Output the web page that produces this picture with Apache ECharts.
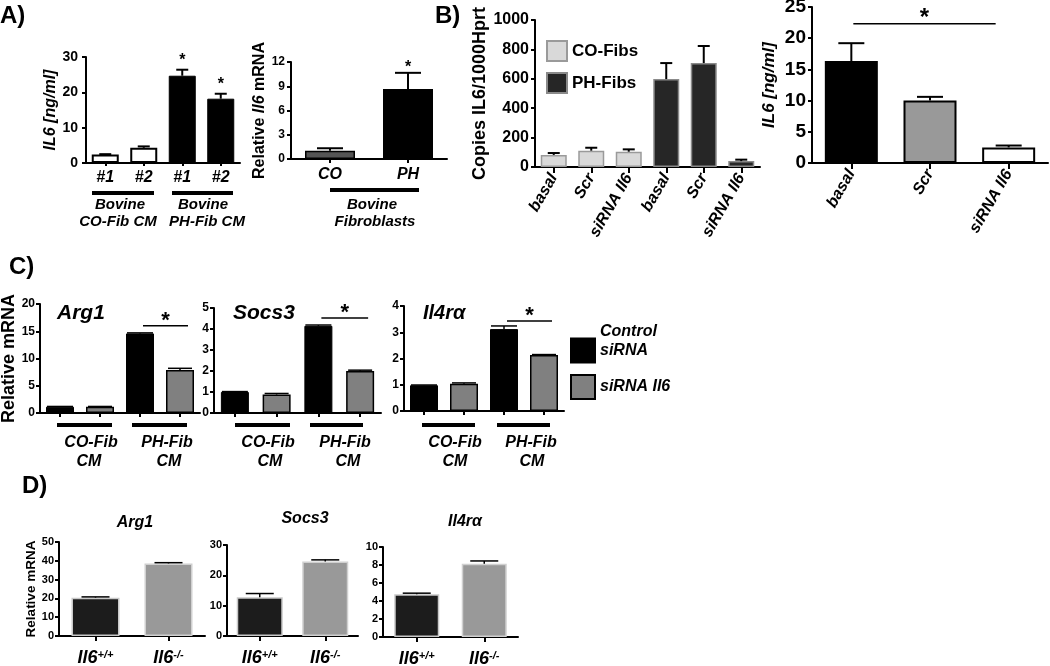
<!DOCTYPE html>
<html><head><meta charset="utf-8">
<script src="https://cdn.jsdelivr.net/npm/echarts@6/dist/echarts.min.js"></script>
<style>html,body{margin:0;padding:0;background:#fff}#c{width:1050px;height:666px}</style>
</head><body><div id="c"></div><script>
// ===== data =====
// A) left: IL6 in conditioned media
const aFibCats = ['#1', '#2', '#1', '#2'];
const aCOFibCM = [2.4, 4.3];
const aCOFibCMErr = [0.1, 0.4];
const aPHFibCM = [24.7, 18.2];
const aPHFibCMErr = [1.7, 1.4];
// A) right: relative Il6 mRNA
const aRelCats = ['CO', 'PH'];
const aRelIl6 = [1.03, 8.66];
const aRelIl6Err = [0.3, 2.0];
// B) left: copies IL6/1000 Hprt
const bCats = ['basal', 'Scr', 'siRNA Il6', 'basal', 'Scr', 'siRNA Il6'];
const bCOFibs = [82, 111, 104];
const bCOFibsErr = [13, 20, 16];
const bPHFibs = [598, 707, 40];
const bPHFibsErr = [109, 116, 10];
// B) right: IL6 ng/ml
const b2Cats = ['basal', 'Scr', 'siRNA Il6'];
const b2IL6 = [16.35, 10.0, 2.5];
const b2IL6Err = [2.85, 0.6, 0.3];
// C) relative mRNA, [CO-Fib CM, PH-Fib CM]
const cCats = ['CO ctrl', 'CO si', 'PH ctrl', 'PH si'];
const cArg1Ctrl = [1.15, 14.6], cArg1CtrlErr = [0.05, 0.1];
const cArg1Si = [1.15, 7.9], cArg1SiErr = [0.05, 0.3];
const cSocs3Ctrl = [1.0, 4.15], cSocs3CtrlErr = [0.02, 0.04];
const cSocs3Si = [0.88, 2.0], cSocs3SiErr = [0.05, 0.04];
const cIl4raCtrl = [0.98, 3.12], cIl4raCtrlErr = [0.01, 0.12];
const cIl4raSi = [1.04, 2.13], cIl4raSiErr = [0.03, 0.02];
// D) relative mRNA in Il6 +/+ vs -/-
const dCats = ['Il6+/+', 'Il6-/-'];
const dArg1 = [20.4, 38.6], dArg1Err = [0.4, 0.4];
const dSocs3 = [12.8, 24.6], dSocs3Err = [1.2, 0.5];
const dIl4ra = [4.75, 8.15], dIl4raErr = [0.12, 0.3];

// ===== helpers =====
const FONT = '"Liberation Sans", Arial, Helvetica, sans-serif';
const grids = [], xAxes = [], yAxes = [], series = [], graphics = [], legends = [];

function place(vals, start, n) {
  const out = new Array(n).fill('-');
  vals.forEach((v, k) => { out[start + k] = v; });
  return out;
}
function addPanel(p) {
  const gi = grids.length;
  grids.push({ left: p.left, top: p.top, width: p.width, height: p.height, containLabel: false, outerBoundsMode: 'none' });
  xAxes.push({
    gridIndex: gi, type: 'category', data: p.cats, boundaryGap: true,
    axisLine: { show: true, onZero: false, lineStyle: { color: '#000', width: 2 } },
    axisTick: { show: true, alignWithLabel: true, length: p.xTickLen || 5, lineStyle: { color: '#000', width: 2 } },
    axisLabel: Object.assign({ show: !!p.xLabel, interval: 0, color: '#000', fontFamily: FONT, fontWeight: 'bold', fontStyle: 'italic', hideOverlap: false }, p.xLabel || {}),
    splitLine: { show: false }
  });
  yAxes.push({
    gridIndex: gi, type: 'value', min: p.yMin, max: p.yMax, interval: p.yStep,
    axisLine: { show: true, lineStyle: { color: '#000', width: 2 } },
    axisTick: { show: true, length: 4, lineStyle: { color: '#000', width: 2 } },
    axisLabel: { color: '#000', fontFamily: FONT, fontWeight: 'bold', fontSize: p.yFont, margin: p.yMargin || 6, formatter: v => String(v) },
    splitLine: { show: false },
    name: p.yName || '', nameLocation: 'middle', nameRotate: 90, nameGap: p.yNameGap || 20,
    nameTextStyle: p.yNameStyle || {}
  });
  return gi;
}
function bar(gi, name, data, style, barWidth) {
  series.push({ type: 'bar', name: name, xAxisIndex: gi, yAxisIndex: gi, data: data, barWidth: barWidth, barGap: '-100%',
    itemStyle: Object.assign({ borderRadius: 0, borderJoin: 'miter' }, style), silent: true, animation: false, z: 2 });
}
function errs(gi, idx, vals, es, o) {
  o = o || {};
  const stars = o.stars || [];
  const cap = o.cap || 12, lw = o.lw || 2, fs = o.starSize || 16, sg = o.starGap || 10;
  series.push({
    type: 'custom', xAxisIndex: gi, yAxisIndex: gi, silent: true, animation: false, z: 4,
    encode: { x: 0, y: [1, 2] },
    data: vals.map((v, k) => [idx[k], v, es[k]]),
    renderItem: function (params, api) {
      const i = api.value(0), v = api.value(1), e = api.value(2);
      const b = api.coord([i, v]), t = api.coord([i, v + e]);
      const x = b[0];
      const ch = [
        { type: 'line', shape: { x1: x, y1: b[1], x2: x, y2: t[1] }, style: { stroke: o.color || '#000', lineWidth: lw } },
        { type: 'line', shape: { x1: x - cap / 2, y1: t[1], x2: x + cap / 2, y2: t[1] }, style: { stroke: o.color || '#000', lineWidth: lw } }
      ];
      if (stars.indexOf(params.dataIndex) >= 0) {
        ch.push({ type: 'text', style: { text: '*', x: x, y: t[1] - sg + 0.22 * fs, align: 'center', verticalAlign: 'middle',
          textAlign: 'center', textVerticalAlign: 'middle', font: 'bold ' + fs + 'px ' + FONT, fill: '#000' } });
      }
      return { type: 'group', children: ch };
    }
  });
}
function sig(gi, i0, i1, level, off0, off1, fs, gap) {
  series.push({
    type: 'custom', xAxisIndex: gi, yAxisIndex: gi, silent: true, animation: false, z: 5,
    encode: { x: [0, 1], y: 2 },
    data: [[i0, i1, level]],
    renderItem: function (params, api) {
      const p0 = api.coord([api.value(0), api.value(2)]), p1 = api.coord([api.value(1), api.value(2)]);
      const x0 = p0[0] + off0, x1 = p1[0] + off1, y = p0[1];
      return { type: 'group', children: [
        { type: 'line', shape: { x1: x0, y1: y, x2: x1, y2: y }, style: { stroke: '#000', lineWidth: 1.5 } },
        { type: 'text', style: { text: '*', x: (x0 + x1) / 2, y: y - gap + 0.22 * fs, align: 'center', verticalAlign: 'middle',
          textAlign: 'center', textVerticalAlign: 'middle', font: 'bold ' + fs + 'px ' + FONT, fill: '#000' } }
      ] };
    }
  });
}
function T(x, y, text, size, opt) {
  opt = opt || {};
  const font = (opt.italic === false ? '' : 'italic ') + 'bold ' + size + 'px ' + FONT;
  graphics.push({ type: 'text', x: x, y: y, silent: true, z: 10,
    style: { text: text, fill: '#000', font: font, align: opt.align || 'center', verticalAlign: opt.va || 'middle',
      textAlign: opt.align || 'center', textVerticalAlign: opt.va || 'middle' } });
}
function HL(x1, x2, y, w) {
  graphics.push({ type: 'line', silent: true, z: 10, shape: { x1: x1, y1: y, x2: x2, y2: y }, style: { stroke: '#000', lineWidth: w } });
}
const nameStyle = (size, italic) => ({ fontFamily: FONT, fontWeight: 'bold', fontStyle: italic ? 'italic' : 'normal', fontSize: size, color: '#000' });

// ===== Panel A left =====
const gA1 = addPanel({ left: 86, top: 57, width: 154, height: 106, cats: aFibCats, yMin: 0, yMax: 30, yStep: 10, yFont: 14, yMargin: 8,
  xLabel: { fontSize: 16, margin: 7 }, xTickLen: 3, yName: 'IL6 [ng/ml]', yNameGap: 26, yNameStyle: nameStyle(16, true) });
bar(gA1, 'CO-Fib CM', place(aCOFibCM, 0, 4), { color: '#fff', borderColor: '#000', borderWidth: 2 }, 27);
bar(gA1, 'PH-Fib CM', place(aPHFibCM, 2, 4), { color: '#000', borderColor: '#000', borderWidth: 1 }, 27);
errs(gA1, [0, 1], aCOFibCM, aCOFibCMErr, { cap: 12 });
errs(gA1, [2, 3], aPHFibCM, aPHFibCMErr, { cap: 12, stars: [0, 1], starSize: 16, starGap: 13 });

// ===== Panel A right =====
const gA2 = addPanel({ left: 291, top: 62, width: 156, height: 97, cats: aRelCats, yMin: 0, yMax: 12, yStep: 3, yFont: 12, yMargin: 6,
  xLabel: { fontSize: 16, margin: 8 }, xTickLen: 4, yName: '{n|Relative }{i|Il6}{n| mRNA}', yNameGap: 15,
  yNameStyle: { rich: { n: nameStyle(16, false), i: nameStyle(16, true) } } });
const aRelColors = ['#555555', '#000000'];
bar(gA2, 'Relative Il6', aRelIl6.map((v, k) => ({ value: v, itemStyle: { color: aRelColors[k] } })), { borderColor: '#000', borderWidth: 1.5 }, 50);
errs(gA2, [0, 1], aRelIl6, aRelIl6Err, { cap: 26, stars: [1], starSize: 16, starGap: 9 });

// ===== Panel B left =====
const gB1 = addPanel({ left: 535, top: 20, width: 225, height: 147, cats: bCats, yMin: 0, yMax: 1000, yStep: 200, yFont: 16, yMargin: 6,
  xLabel: { fontSize: 16, margin: 8, rotate: 60 }, xTickLen: 6, yName: 'Copies IL6/1000Hprt', yNameGap: 29, yNameStyle: nameStyle(18, false) });
bar(gB1, 'CO-Fibs', place(bCOFibs, 0, 6), { color: '#d9d9d9', borderColor: '#9a9a9a', borderWidth: 1.5 }, 26);
bar(gB1, 'PH-Fibs', place(bPHFibs, 3, 6), { color: '#262626', borderColor: '#8a8a8a', borderWidth: 1.5 }, 26);
errs(gB1, [0, 1, 2], bCOFibs, bCOFibsErr, { cap: 12 });
errs(gB1, [3, 4, 5], bPHFibs, bPHFibsErr, { cap: 12 });
legends.push({ data: ['CO-Fibs', 'PH-Fibs'], orient: 'vertical', left: 546, top: 40, itemWidth: 20, itemHeight: 20, itemGap: 10, icon: 'rect',
  itemStyle: { borderRadius: 0 }, padding: 0, selectedMode: false, textStyle: { fontFamily: FONT, fontWeight: 'bold', fontSize: 17, color: '#000' } });

// ===== Panel B right =====
const gB2 = addPanel({ left: 812, top: 7, width: 236, height: 156, cats: b2Cats, yMin: 0, yMax: 25, yStep: 5, yFont: 19, yMargin: 6,
  xLabel: { fontSize: 16, margin: 8, rotate: 60 }, xTickLen: 6, yName: 'IL6 [ng/ml]', yNameGap: 34, yNameStyle: nameStyle(17, true) });
const b2Styles = [{ color: '#000' }, { color: '#999999' }, { color: '#ffffff' }];
bar(gB2, 'IL6', b2IL6.map((v, k) => ({ value: v, itemStyle: b2Styles[k] })), { borderColor: '#000', borderWidth: 2 }, 53);
errs(gB2, [0, 1, 2], b2IL6, b2IL6Err, { cap: 26 });
sig(gB2, 0, 2, 22.3, 2, -13, 24, 11);

// ===== Panel C =====
const cCtrlStyle = { color: '#000', borderColor: '#000', borderWidth: 1 };
const cSiStyle = { color: '#808080', borderColor: '#000', borderWidth: 1.5 };
function cPanel(g, ctrl, ctrlE, si, siE, level) {
  const gi = addPanel(Object.assign({ cats: cCats, yMin: 0, yFont: 12, yMargin: 5, xTickLen: 4 }, g));
  bar(gi, 'Control siRNA', [ctrl[0], '-', ctrl[1], '-'], cCtrlStyle, 28);
  bar(gi, 'siRNA Il6', ['-', si[0], '-', si[1]], cSiStyle, 28);
  errs(gi, [0, 2], ctrl, ctrlE, { cap: 26, lw: 1.5 });
  errs(gi, [1, 3], si, siE, { cap: 24, lw: 1.5 });
  sig(gi, 2, 3, level, 3, 8, 22, 10);
  return gi;
}
cPanel({ left: 40, top: 304, width: 160, height: 109, yMax: 20, yStep: 5, yName: 'Relative mRNA', yNameGap: 22, yNameStyle: nameStyle(18, false) },
  cArg1Ctrl, cArg1CtrlErr, cArg1Si, cArg1SiErr, 16.0);
cPanel({ left: 214, top: 308, width: 167, height: 105, yMax: 5, yStep: 1 },
  cSocs3Ctrl, cSocs3CtrlErr, cSocs3Si, cSocs3SiErr, 4.52);
cPanel({ left: 404, top: 306, width: 160, height: 105, yMax: 4, yStep: 1 },
  cIl4raCtrl, cIl4raCtrlErr, cIl4raSi, cIl4raSiErr, 3.43);
legends.push({ data: ['Control siRNA', 'siRNA Il6'], orient: 'vertical', left: 570, top: 322, itemWidth: 24, itemHeight: 24, itemGap: -5, icon: 'rect',
  itemStyle: { borderRadius: 0 }, padding: 0, selectedMode: false,
  formatter: n => n === 'Control siRNA' ? 'Control\nsiRNA\n ' : n,
  textStyle: { fontFamily: FONT, fontWeight: 'bold', fontStyle: 'italic', fontSize: 16, lineHeight: 19, color: '#000' } });

// ===== Panel D =====
const dStyles = [{ color: '#1c1c1c', borderColor: '#c8c8c8', borderWidth: 1.5 }, { color: '#999999', borderColor: '#d0d0d0', borderWidth: 1.5 }];
const dLabel = { fontSize: 18, margin: 13,
  formatter: v => '{b|' + v.slice(0, 3) + '}{s|' + v.slice(3) + '}',
  rich: { b: { fontFamily: FONT, fontWeight: 'bold', fontStyle: 'italic', fontSize: 18, color: '#000' },
          s: { fontFamily: FONT, fontWeight: 'bold', fontStyle: 'italic', fontSize: 11, color: '#000', verticalAlign: 'top' } } };
function dPanel(g, vals, es) {
  const gi = addPanel(Object.assign({ cats: dCats, yMin: 0, yFont: 11, yMargin: 5, xTickLen: 5, xLabel: dLabel }, g));
  bar(gi, 'D', vals.map((v, k) => ({ value: v, itemStyle: dStyles[k] })), {}, g.bw);
  errs(gi, [0, 1], vals, es, { cap: 28, lw: 1.5 });
}
dPanel({ left: 59, top: 542, width: 146, height: 94, yMax: 50, yStep: 10, bw: 48, yName: 'Relative mRNA', yNameGap: 19, yNameStyle: nameStyle(13.5, false) }, dArg1, dArg1Err);
dPanel({ left: 227, top: 545, width: 131, height: 91, yMax: 30, yStep: 10, bw: 46 }, dSocs3, dSocs3Err);
dPanel({ left: 383, top: 547, width: 135, height: 90, yMax: 10, yStep: 2, bw: 45 }, dIl4ra, dIl4raErr);

// ===== annotations =====
T(0, 16, 'A)', 24, { italic: false, align: 'left' });
T(435, 16, 'B)', 24, { italic: false, align: 'left' });
T(9, 267, 'C)', 24, { italic: false, align: 'left' });
T(22, 486, 'D)', 24, { italic: false, align: 'left' });
// A left groups
HL(92, 154, 193, 4); HL(172, 233, 193, 4);
T(120, 205, 'Bovine', 15); T(118, 222, 'CO-Fib CM', 15);
T(203, 205, 'Bovine', 15); T(207, 222, 'PH-Fib CM', 15);
// A right group
HL(330, 419, 190, 4);
T(372, 205, 'Bovine', 15); T(375, 222, 'Fibroblasts', 15);
// C titles
T(57, 313, 'Arg1', 21, { align: 'left' });
T(233, 313, 'Socs3', 21, { align: 'left' });
T(423, 313, 'Il4r\u03b1', 20, { align: 'left' });
// C groups
[[57, 112, 91, 89], [132, 187, 167, 169], [235, 290, 268, 270], [310, 363, 345, 348], [422, 475, 455, 455], [497, 550, 531, 532]].forEach((g, k) => {
  HL(g[0], g[1], 425, 4);
  T(g[2], 443, k % 2 === 0 ? 'CO-Fib' : 'PH-Fib', 16);
  T(g[3], 462, 'CM', 16);
});
// D titles
T(135, 523, 'Arg1', 16); T(305, 519, 'Socs3', 16); T(465, 522, 'Il4r\u03b1', 16);

const chart = echarts.init(document.getElementById('c'), null, { renderer: 'canvas' });
chart.setOption({
  animation: false,
  backgroundColor: '#fff',
  textStyle: { fontFamily: FONT },
  grid: grids, xAxis: xAxes, yAxis: yAxes, series: series, legend: legends, graphic: graphics
});
</script></body></html>
